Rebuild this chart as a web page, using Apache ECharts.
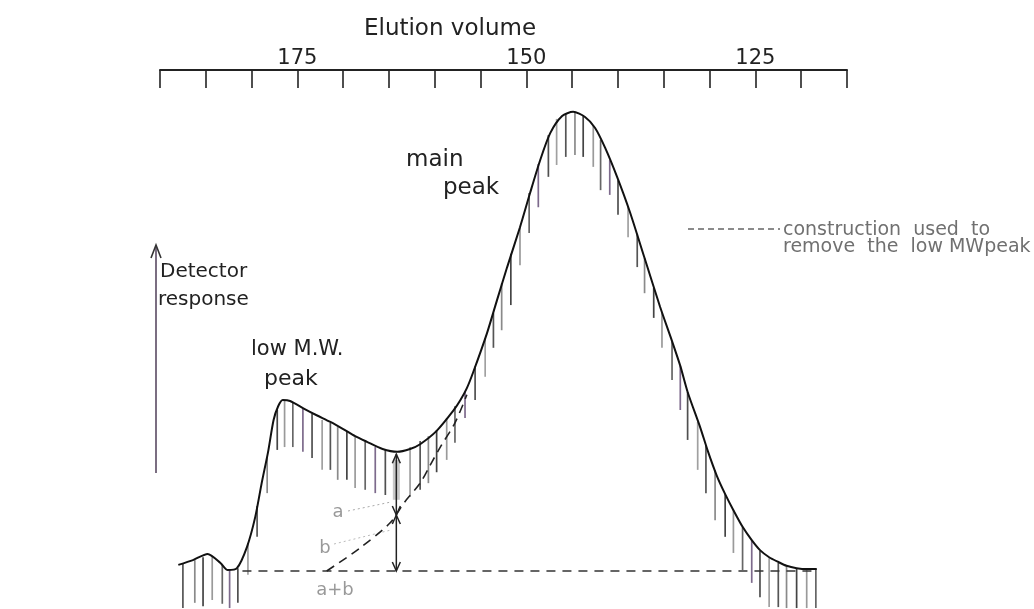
<!DOCTYPE html>
<html><head><meta charset="utf-8">
<script src="https://cdn.jsdelivr.net/npm/echarts@6/dist/echarts.min.js"></script>
<style>html,body{margin:0;padding:0;background:#fff}#c{width:1034px;height:609px}</style>
</head><body><div id="c"></div>
<script>
// Elution volume (x, reversed axis) and detector response (y, arbitrary units, baseline = 0)
const curveX = [188.0,186.4,184.8,183.4,182.6,181.6,180.5,179.6,178.9,178.2,177.6,177.1,176.6,175.8,174.2,172.9,171.4,170.0,168.7,167.4,165.7,164.1,162.7,161.6,159.8,158.0,157.2,156.5,155.8,154.3,153.2,152.1,150.7,149.6,148.5,147.4,146.1,144.9,143.6,142.5,141.4,140.1,138.7,137.1,135.4,134.1,133.2,132.4,131.0,130.2,129.2,128.3,127.4,126.4,125.4,124.5,123.5,122.5,121.6,120.5,119.4,118.3];
const curveY = [1.3,2.3,3.6,1.7,0.2,0.6,5.1,11.4,18.5,25.1,31.8,34.7,36.0,35.8,34.1,32.8,31.4,29.9,28.4,27.2,25.7,25.1,25.7,26.7,29.5,33.7,36.0,38.5,41.9,50.1,57.1,64.0,72.4,79.6,86.5,92.2,95.8,96.7,95.6,93.3,89.1,83.0,75.6,65.9,55.6,48.4,43.2,37.7,30.1,25.3,20.0,16.2,12.8,9.3,6.5,4.4,2.9,1.9,1.1,0.6,0.4,0.4];

const hatchX = [187.5,186.2,185.3,184.3,183.2,182.4,181.5,180.4,179.4,178.3,177.2,176.4,175.5,174.4,173.4,172.3,171.4,170.6,169.6,168.7,167.6,166.5,165.4,162.7,161.6,160.7,159.8,158.7,157.8,156.7,155.6,154.5,153.6,152.7,151.7,150.7,149.7,148.7,147.6,146.7,145.7,144.7,143.8,142.7,141.9,140.9,140.0,138.9,137.9,137.1,136.1,135.2,134.1,133.2,132.4,131.3,130.4,129.4,128.3,127.4,126.4,125.4,124.5,123.5,122.5,121.6,120.5,119.4,118.4];
const hatchTop = [1.7,2.3,2.9,3.2,1.3,0.2,0.6,5.9,13.7,24.0,33.9,36.0,35.4,34.1,33.1,31.8,31.2,30.3,29.3,28.2,27.2,26.1,25.5,26.1,27.4,28.4,29.7,32.2,34.7,37.7,43.1,49.0,54.3,60.6,66.8,72.4,79.6,85.7,91.8,95.2,96.2,96.7,95.8,93.9,90.8,86.5,82.3,76.7,70.9,65.9,59.6,54.4,48.4,43.2,37.7,31.4,26.5,21.2,16.2,12.8,9.3,6.5,4.2,2.7,1.7,1.1,0.6,0.4,0.4];
const hatchBottom = [-7.8,-6.7,-7.4,-6.1,-6.9,-7.8,-6.7,-0.8,7.2,16.4,25.5,26.1,26.1,25.1,23.8,21.3,21.3,19.2,19.2,17.5,17.1,16.4,16.0,15.6,17.1,18.5,20.8,23.4,27.0,32.2,36.0,40.9,47.0,50.7,56.0,64.4,71.2,76.6,83.0,85.5,87.2,87.6,87.2,85.1,80.2,79.2,75.0,70.3,64.0,58.5,53.3,47.0,40.2,33.9,27.6,21.3,16.4,10.7,7.2,3.8,0.2,-2.5,-5.5,-7.6,-7.6,-7.8,-7.8,-7.8,-7.8];

const baselineX = [181.0, 118.5];
const baselineY = [0, 0];
const constructX = [171.8,168.2,164.9,163.3,161.6,160.5,159.4,157.8,156.5];
const constructY = [0,4.8,10.1,14.5,18.5,22.3,26.1,31.2,37.1];

const arrowX = [164.2, 164.2];
const arrowFrom = [24.6, 11.8];
const arrowTo = [11.8, 0];
const shadeBar = [164.2, 23.4, 15.0];

const tickLabels = [175, 150, 125];

const zip = (a, b) => a.map((v, i) => [v, b[i]]);
const shades = ['#555','#8a8a8a','#444','#9a9a9a','#666','#7d6a8c','#505050','#a0a0a0'];
const FONT = '"DejaVu Sans", sans-serif';

const chart = echarts.init(document.getElementById('c'), null, {renderer: 'canvas'});
chart.setOption({
  animation: false,
  backgroundColor: '#fff',
  grid: {left: 160, right: 187, top: 70, bottom: 0, containLabel: false, outerBoundsMode: 'none'},
  xAxis: {
    type: 'value', position: 'top', inverse: true, min: 115, max: 190, interval: 5,
    splitLine: {show: false},
    axisLine: {show: true, onZero: false, lineStyle: {color: '#222', width: 2}},
    axisTick: {show: true, inside: true, length: 18, lineStyle: {color: '#222', width: 1.6}},
    axisLabel: {show: true, margin: 1, fontSize: 21, color: '#222', fontFamily: FONT,
      formatter: v => tickLabels.includes(v) ? String(v) : ''}
  },
  yAxis: {type: 'value', min: -8, max: 105.5, show: false},
  graphic: [
    {type: 'text', x: 450, y: 29, style: {text: 'Elution volume', font: '23px ' + FONT, fill: '#222', align: 'center', verticalAlign: 'middle'}},
    {type: 'polyline', shape: {points: [[156, 473], [156, 246]]}, style: {stroke: '#5a4a62', lineWidth: 1.6, fill: null}},
    {type: 'polyline', shape: {points: [[151, 258], [156, 245], [161, 258]]}, style: {stroke: '#333', lineWidth: 1.6, fill: null}},
    {type: 'text', x: 160, y: 272, style: {text: 'Detector', font: '20px ' + FONT, fill: '#222', align: 'left', verticalAlign: 'middle'}},
    {type: 'text', x: 158, y: 300, style: {text: 'response', font: '20px ' + FONT, fill: '#222', align: 'left', verticalAlign: 'middle'}},
    {type: 'text', x: 251, y: 350, style: {text: 'low M.W.', font: '21px ' + FONT, fill: '#222', align: 'left', verticalAlign: 'middle'}},
    {type: 'text', x: 264, y: 379, style: {text: 'peak', font: '22px ' + FONT, fill: '#222', align: 'left', verticalAlign: 'middle'}},
    {type: 'text', x: 406, y: 160, style: {text: 'main', font: '23px ' + FONT, fill: '#222', align: 'left', verticalAlign: 'middle'}},
    {type: 'text', x: 443, y: 188, style: {text: 'peak', font: '23px ' + FONT, fill: '#222', align: 'left', verticalAlign: 'middle'}},
    {type: 'line', shape: {x1: 688, y1: 229, x2: 780, y2: 229}, style: {stroke: '#666', lineWidth: 1.3, lineDash: [6, 4]}},
    {type: 'text', x: 783, y: 230, style: {text: 'construction  used  to', font: '19px ' + FONT, fill: '#707070', align: 'left', verticalAlign: 'middle'}},
    {type: 'text', x: 783, y: 247, style: {text: 'remove  the  low MWpeak', font: '19px ' + FONT, fill: '#707070', align: 'left', verticalAlign: 'middle'}},
    {type: 'text', x: 338, y: 512, style: {text: 'a', font: '18px ' + FONT, fill: '#999', align: 'center', verticalAlign: 'middle'}},
    {type: 'text', x: 325, y: 548, style: {text: 'b', font: '18px ' + FONT, fill: '#999', align: 'center', verticalAlign: 'middle'}},
    {type: 'text', x: 335, y: 590, style: {text: 'a+b', font: '18px ' + FONT, fill: '#999', align: 'center', verticalAlign: 'middle'}},
    {type: 'line', shape: {x1: 348, y1: 511, x2: 391, y2: 502}, style: {stroke: '#aaa', lineWidth: 1, lineDash: [2, 3]}},
    {type: 'line', shape: {x1: 334, y1: 544, x2: 391, y2: 530}, style: {stroke: '#bbb', lineWidth: 1, lineDash: [2, 3]}}
  ],
  series: [
    {
      type: 'custom', name: 'shade', z: 1,
      data: [shadeBar],
      renderItem: (params, api) => {
        const p1 = api.coord([api.value(0), api.value(1)]);
        const p2 = api.coord([api.value(0), api.value(2)]);
        return {type: 'rect', shape: {x: p1[0] - 3.5, y: p1[1], width: 7, height: p2[1] - p1[1]}, style: {fill: '#c8c8c8'}};
      }
    },
    {
      type: 'custom', name: 'hatch', z: 2,
      data: hatchX.map((x, i) => [x, hatchTop[i], hatchBottom[i]]),
      renderItem: (params, api) => {
        const p1 = api.coord([api.value(0), api.value(1)]);
        const p2 = api.coord([api.value(0), api.value(2)]);
        return {type: 'line', shape: {x1: p1[0], y1: p1[1], x2: p2[0], y2: p2[1]},
          style: {stroke: shades[params.dataIndex % shades.length], lineWidth: 1.7}};
      }
    },
    {
      type: 'line', name: 'baseline', z: 3, data: zip(baselineX, baselineY), showSymbol: false, symbol: 'none',
      lineStyle: {color: '#333', width: 1.5, type: [9, 7]}
    },
    {
      type: 'line', name: 'construction', z: 3, data: zip(constructX, constructY), showSymbol: false, symbol: 'none', smooth: 0.3,
      lineStyle: {color: '#222', width: 1.6, type: [9, 6]}
    },
    {
      type: 'line', name: 'detector', z: 4, data: zip(curveX, curveY), showSymbol: false, symbol: 'none', smooth: 0.25,
      lineStyle: {color: '#111', width: 2}
    },
    {
      type: 'custom', name: 'arrows', z: 5,
      data: arrowX.map((x, i) => [x, arrowFrom[i], arrowTo[i]]),
      renderItem: (params, api) => {
        const p1 = api.coord([api.value(0), api.value(1)]);
        const p2 = api.coord([api.value(0), api.value(2)]);
        const x = p1[0];
        const st = {stroke: '#222', lineWidth: 1.5, fill: null};
        return {type: 'group', children: [
          {type: 'line', shape: {x1: x, y1: p1[1], x2: x, y2: p2[1]}, style: st},
          {type: 'polyline', shape: {points: [[x - 4, p1[1] + 9], [x, p1[1]], [x + 4, p1[1] + 9]]}, style: st},
          {type: 'polyline', shape: {points: [[x - 4, p2[1] - 9], [x, p2[1]], [x + 4, p2[1] - 9]]}, style: st}
        ]};
      }
    }
  ]
});
</script></body></html>
